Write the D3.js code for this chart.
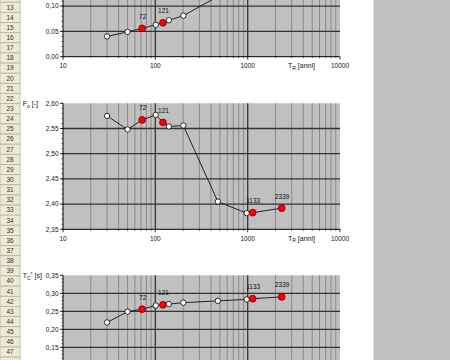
<!DOCTYPE html>
<html>
<head>
<meta charset="utf-8">
<script src="https://cdn.jsdelivr.net/npm/d3@7"></script>
<style>
  body { margin: 0; background: #fff; }
  svg { display: block; font-family: "Liberation Sans", Arial, sans-serif; }
</style>
</head>
<body>
<main></main>
<script>
// Return periods (anni) and the three spectral parameters.
const returnPeriods = [30, 50, 72, 101, 121, 140, 201, 475, 975, 1133, 2339];
const highlighted   = [false, false, true, false, true, false, false, false, false, true, true];
const pointLabels   = ["", "", "72", "", "121", "", "", "", "", "1133", "2339"];
const agValues = [0.040, 0.049, 0.056, 0.063, 0.067, 0.072, 0.081, 0.119, 0.157, 0.165, 0.210];
const f0Values = [2.575, 2.548, 2.567, 2.577, 2.562, 2.554, 2.556, 2.405, 2.382, 2.383, 2.392];
const tcValues = [0.219, 0.249, 0.256, 0.266, 0.268, 0.270, 0.274, 0.279, 0.283, 0.285, 0.290];
const xTickValues = [10, 100, 1000, 10000];
const rowNumbers = d3.range(12, 49);

let width = 450,
    height = 360;

let svg = d3.select("main").append("svg")
  .attr("width", width)
  .attr("height", height);

// Row headers on the left of the sheet.
let rowH = 10.14, rowTop0 = 2.23 - rowH; // top of row 12
let rows = svg.append("g").attr("class", "rows");
rowNumbers.forEach((r, i) => {
  let y = rowTop0 + i * rowH;
  rows.append("rect").attr("x", 0).attr("y", y).attr("width", 20).attr("height", rowH)
    .attr("fill", "#ebead6").attr("stroke", "#b5b39e").attr("stroke-width", 0.8);
  rows.append("text").attr("x", 10).attr("y", y + rowH / 2 + 2.3)
    .attr("text-anchor", "middle").attr("font-size", 6.5).attr("fill", "#333")
    .text(r);
});

// Gray application area on the right.
svg.append("rect").attr("x", 373).attr("y", 0).attr("width", 77).attr("height", height).attr("fill", "#c2c2c2");
svg.append("line").attr("x1", 373.5).attr("x2", 373.5).attr("y1", 0).attr("y2", height).attr("stroke", "#e4e4e4");

let x = d3.scaleLog().domain([10, 10000]).range([63, 340]);
let minorX = [];
[10, 100, 1000].forEach(d => { for (let k = 2; k <= 9; ++k) minorX.push(d * k); });

const comma = v => d3.format(".2f")(v).replace(".", ",");

function drawChart(cfg) {
  let y = d3.scaleLinear().domain(cfg.domain).range(cfg.range);
  let g = svg.append("g");
  let top = cfg.range[1], bottom = cfg.range[0];

  g.append("rect").attr("x", x(10)).attr("y", top).attr("width", x(10000) - x(10)).attr("height", bottom - top)
    .attr("fill", "#c0c0c0");

  g.selectAll("line.minor").data(minorX).enter().append("line")
    .attr("x1", d => x(d)).attr("x2", d => x(d)).attr("y1", top).attr("y2", bottom)
    .attr("stroke", "#858585").attr("stroke-width", 0.9);

  g.selectAll("line.major").data([100, 1000]).enter().append("line")
    .attr("x1", d => x(d)).attr("x2", d => x(d)).attr("y1", top).attr("y2", bottom)
    .attr("stroke", "#3c3c3c").attr("stroke-width", 1.4);

  let yTicks = d3.range(cfg.domain[0], cfg.domain[1] + 1e-9, 0.05);
  g.selectAll("line.hgrid").data(yTicks.slice(1, -1)).enter().append("line")
    .attr("x1", x(10)).attr("x2", x(10000)).attr("y1", d => y(d)).attr("y2", d => y(d))
    .attr("stroke", "#333").attr("stroke-width", 1.3);

  // Axes
  g.append("line").attr("x1", x(10)).attr("x2", x(10)).attr("y1", top).attr("y2", bottom).attr("stroke", "#000");
  g.append("line").attr("x1", x(10)).attr("x2", x(10000)).attr("y1", bottom).attr("y2", bottom).attr("stroke", "#000");

  let minorY = d3.range(cfg.domain[0], cfg.domain[1] + 1e-9, 0.01);
  g.selectAll("line.ytm").data(minorY).enter().append("line")
    .attr("x1", x(10) - 1.5).attr("x2", x(10)).attr("y1", d => y(d)).attr("y2", d => y(d))
    .attr("stroke", "#000").attr("stroke-width", 0.6);
  g.selectAll("line.ytk").data(yTicks).enter().append("line")
    .attr("x1", x(10) - 3).attr("x2", x(10)).attr("y1", d => y(d)).attr("y2", d => y(d))
    .attr("stroke", "#000").attr("stroke-width", 0.8);
  g.selectAll("text.ylab").data(yTicks).enter().append("text")
    .attr("x", 58.5).attr("y", d => y(d) + 2.3).attr("text-anchor", "end")
    .attr("font-size", 6.5).attr("fill", "#111").text(comma);

  g.selectAll("line.xtm").data(minorX).enter().append("line")
    .attr("x1", d => x(d)).attr("x2", d => x(d)).attr("y1", bottom).attr("y2", bottom + 1.5)
    .attr("stroke", "#000").attr("stroke-width", 0.6);
  g.selectAll("line.xtk").data(xTickValues).enter().append("line")
    .attr("x1", d => x(d)).attr("x2", d => x(d)).attr("y1", bottom).attr("y2", bottom + 3)
    .attr("stroke", "#000").attr("stroke-width", 0.8);
  g.selectAll("text.xlab").data(xTickValues).enter().append("text")
    .attr("x", d => x(d)).attr("y", bottom + 11.3).attr("text-anchor", "middle")
    .attr("font-size", 6.5).attr("fill", "#111").text(d => d);

  let xt = g.append("text").attr("x", 288).attr("y", bottom + 11.3).attr("font-size", 7).attr("fill", "#111");
  xt.append("tspan").text("T");
  xt.append("tspan").attr("font-size", 5).attr("dy", 1.5).text("R");
  xt.append("tspan").attr("dy", -1.5).text(" [anni]");

  let yt = g.append("text").attr("x", 22.7).attr("y", top + 3).attr("font-size", 7).attr("fill", "#111");
  yt.append("tspan").text(cfg.yMain);
  yt.append("tspan").attr("font-size", 5).attr("dy", 1.5).text(cfg.ySub);
  if (cfg.ySup) yt.append("tspan").attr("font-size", 5).attr("dy", -4).text(cfg.ySup);
  yt.append("tspan").attr("dy", cfg.ySup ? 2.5 : -1.5).text(" " + cfg.yUnit);

  // Series
  let pts = returnPeriods.map((t, i) => ({ t: t, v: cfg.values[i], red: highlighted[i], label: pointLabels[i] }));
  g.append("path").datum(pts)
    .attr("fill", "none").attr("stroke", "#111").attr("stroke-width", 0.9)
    .attr("d", d3.line().x(d => x(d.t)).y(d => y(d.v)));

  g.selectAll("circle.pt").data(pts).enter().append("circle")
    .attr("cx", d => x(d.t)).attr("cy", d => y(d.v))
    .attr("r", d => d.red ? 3.4 : 2.7)
    .attr("fill", d => d.red ? "#ff0000" : "#ffffff")
    .attr("stroke", d => d.red ? "#700000" : "#000")
    .attr("stroke-width", 0.8);

  g.selectAll("text.pl").data(pts.filter(d => d.label)).enter().append("text")
    .attr("x", d => x(d.t) + 0.5).attr("y", d => y(d.v) - 9.5).attr("text-anchor", "middle")
    .attr("font-size", 6.5).attr("fill", "#111").text(d => d.label);
}

drawChart({ domain: [0, 0.30], range: [56.7, 56.7 - 6 * 25.3], values: agValues, yMain: "a", ySub: "g", yUnit: "[g]" });
drawChart({ domain: [2.35, 2.60], range: [229.3, 103.3], values: f0Values, yMain: "F", ySub: "o", yUnit: "[-]" });
drawChart({ domain: [0, 0.35], range: [275.3 + 7 * 18, 275.3], values: tcValues, yMain: "T", ySub: "C", ySup: "*", yUnit: "[s]" });
</script>
</body>
</html>
